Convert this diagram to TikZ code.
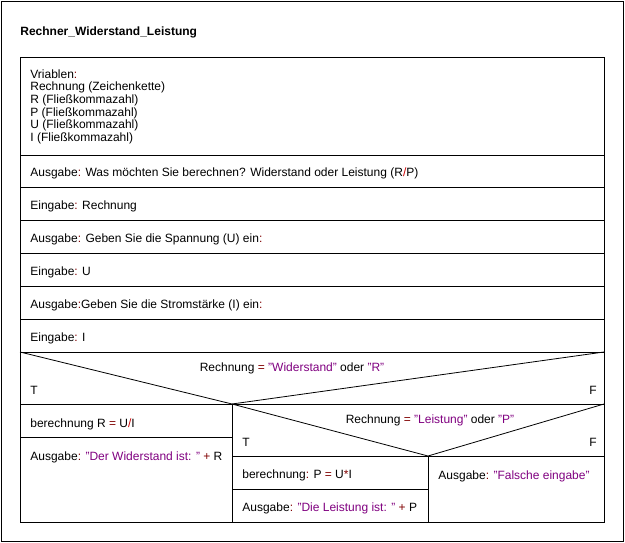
\documentclass[tikz,border=0pt]{standalone}
\usepackage{fontspec}
\setmainfont{Liberation Sans}
\usepackage{xcolor}
\usepackage{tikz}
\definecolor{kwred}{RGB}{128,0,0}
\definecolor{opred}{RGB}{204,0,0}
\definecolor{strpurple}{RGB}{128,0,128}
\newcommand{\cln}{\textcolor{kwred}{:}}
\newcommand{\opk}[1]{\textcolor{kwred}{#1}}
\newcommand{\strlit}[1]{\textcolor{strpurple}{#1}}

\begin{document}
\begin{tikzpicture}[x=1pt, y=-1pt, line width=0.8pt, txt/.style={anchor=base west, inner sep=0pt, font=\fontsize{12}{12.7}\selectfont}, cond/.style={txt, anchor=base}]
  \useasboundingbox (0,0) rectangle (625,543);
  \draw (1,1) rectangle (623,541);
  \node[txt, font=\fontsize{12}{13}\selectfont\bfseries] (title) at (20,36) {Rechner\_Widerstand\_Leistung};
  % structogram frame
  \draw (20,57) rectangle (604,522);
  \foreach \y in {155,187,220,253,286,319,352}
    \draw (20,\y) -- (604,\y);
  % first decision
  \coordinate (apex1) at (232,404);
  \draw (20,352) -- (apex1) -- (604,352);
  \draw (20,404) -- (604,404);
  \draw (apex1) -- (232,522);
  \draw (20,437) -- (232,437);
  % second decision
  \coordinate (apex2) at (428,456);
  \draw (apex1) -- (apex2) -- (604,404);
  \draw (232,456) -- (604,456);
  \draw (apex2) -- (428,522);
  \draw (232,489) -- (428,489);
  % texts
  \node[txt, align=left, anchor=north west] (vars) at (30,69) {Vriablen\cln\\Rechnung (Zeichenkette)\\R (Flie\ss kommazahl)\\P (Flie\ss kommazahl)\\U (Flie\ss kommazahl)\\I (Flie\ss kommazahl)};
  \node[txt] (out1) at (30,177) {Ausgabe\cln{} Was m\"ochten Sie berechnen? Widerstand oder Leistung (R\textcolor{opred}{/}P)};
  \node[txt] (in1) at (30,209) {Eingabe\cln{} Rechnung};
  \node[txt] (out2) at (30,242) {Ausgabe\cln{} Geben Sie die Spannung (U) ein\cln};
  \node[txt] (in2) at (30,275) {Eingabe\cln{} U};
  \node[txt] (out3) at (30,308) {Ausgabe\cln Geben Sie die Stromst\"arke (I) ein\cln};
  \node[txt] (in3) at (30,341) {Eingabe\cln{} I};
  \node[cond] (cond1) at (292,371) {Rechnung \opk{=} \strlit{"Widerstand"} oder \strlit{"R"}};
  \node[txt] (t1) at (30,394) {T};
  \node[txt, anchor=base east] (f1) at (597,394) {F};
  \node[txt] (calcR) at (30,427) {berechnung R \opk{=} U\textcolor{opred}{/}I};
  \node[txt] (outR) at (30,460) {Ausgabe\cln{} \strlit{"Der Widerstand ist: "} \opk{+} R};
  \node[cond] (cond2) at (430,423) {Rechnung \opk{=} \strlit{"Leistung"} oder \strlit{"P"}};
  \node[txt] (t2) at (242,446) {T};
  \node[txt, anchor=base east] (f2) at (597,446) {F};
  \node[txt] (calcP) at (242,478) {berechnung\cln{} P \opk{=} U\opk{*}I};
  \node[txt] (outP) at (242,511) {Ausgabe\cln{} \strlit{"Die Leistung ist: "} \opk{+} P};
  \node[txt] (outF) at (438,479) {Ausgabe\cln{} \strlit{"Falsche eingabe"}};
\end{tikzpicture}
\end{document}
